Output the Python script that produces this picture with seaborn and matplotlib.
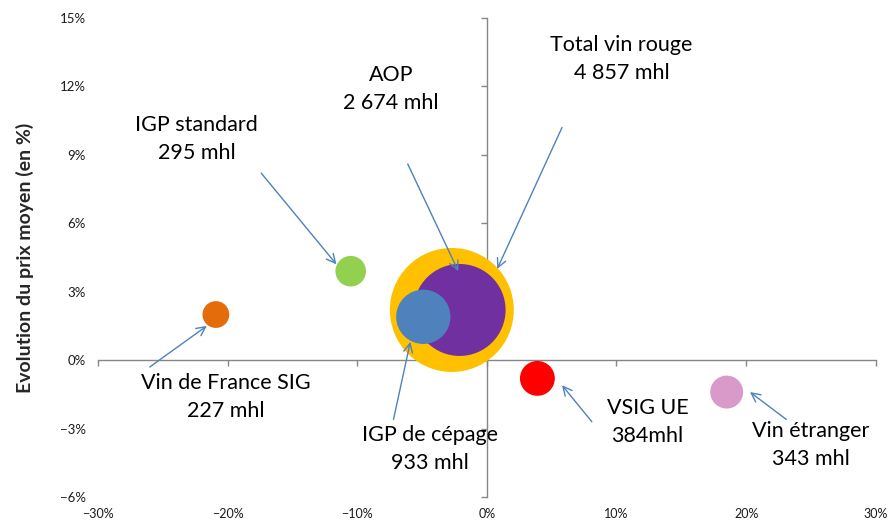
import matplotlib
matplotlib.use('Agg')
import matplotlib.pyplot as plt
import numpy as np
import pandas as pd
import seaborn as sns
from matplotlib.ticker import PercentFormatter

# Données
categories = ['Total vin rouge', 'AOP', 'IGP de cépage', 'IGP standard',
              'Vin de France SIG', 'VSIG UE', 'Vin étranger']
evol_volume = [-2.7, -2.1, -4.9, -10.5, -20.9, 3.9, 18.5]   # axe x (%)
evol_prix = [2.2, 2.2, 1.9, 3.9, 2.0, -0.8, -1.4]           # axe y (%)
volumes = [4857, 2674, 933, 295, 227, 384, 343]             # mhl
volume_labels = ['4 857 mhl', '2 674 mhl', '933 mhl', '295 mhl',
                 '227 mhl', '384mhl', '343 mhl']

x_ticks = [-30, -20, -10, 0, 10, 20, 30]
y_ticks = [-6, -3, 0, 3, 6, 9, 12, 15]

colors = {'Total vin rouge': '#FFC000', 'AOP': '#7030A0', 'IGP de cépage': '#4F81BD',
          'IGP standard': '#92D050', 'Vin de France SIG': '#E46C0A',
          'VSIG UE': '#FF0000', 'Vin étranger': '#D999C9'}

# position des étiquettes et des flèches (départ -> bulle)
label_pos = {'Total vin rouge': (10.4, 13.2), 'AOP': (-7.4, 11.9),
             'IGP de cépage': (-4.4, -3.9), 'IGP standard': (-22.4, 9.7),
             'Vin de France SIG': (-20.1, -1.6), 'VSIG UE': (12.4, -2.7),
             'Vin étranger': (25.0, -3.7)}
arrows = {'Total vin rouge': ((5.8, 10.2), (0.8, 4.0)),
          'AOP': ((-6.1, 8.6), (-2.2, 3.9)),
          'IGP de cépage': ((-7.2, -2.6), (-5.9, 0.8)),
          'IGP standard': ((-17.4, 8.2), (-11.6, 4.2)),
          'Vin de France SIG': ((-26.0, -0.3), (-21.6, 1.5)),
          'VSIG UE': ((8.1, -2.7), (5.8, -1.1)),
          'Vin étranger': ((23.1, -2.6), (20.3, -1.4))}

df = pd.DataFrame({'cat': categories, 'x': evol_volume, 'y': evol_prix, 'vol': volumes})

sns.set_theme(style='white')
plt.rcParams['font.family'] = ['Lato', 'DejaVu Sans']

fig = plt.figure(figsize=(8.9, 5.22), dpi=100)
ax = fig.add_axes([0.110, 0.0479, 0.874, 0.9176])

# surface de la bulle proportionnelle au volume
k = 1.64
size_map = {v: v * k for v in volumes}
sns.scatterplot(data=df, x='x', y='y', hue='cat', palette=colors,
                size='vol', sizes=size_map, legend=False,
                linewidth=0, alpha=1, ax=ax, zorder=3)

ax.set_xlim(-30, 30)
ax.set_ylim(-6, 15)
ax.set_xlabel('')
ax.set_ylabel('')

axis_color = '#868686'
for s in ['top', 'right']:
    ax.spines[s].set_visible(False)
ax.spines['left'].set_position(('data', 0))
ax.spines['bottom'].set_position(('data', 0))
for s in ['left', 'bottom']:
    ax.spines[s].set_color(axis_color)
    ax.spines[s].set_linewidth(1)
ax.set_xticks(x_ticks)
ax.set_yticks(y_ticks)
ax.tick_params(axis='both', direction='out', length=4, width=1, color=axis_color,
               labelbottom=False, labelleft=False, bottom=True, left=True)

# libellés des axes en bas / à gauche (position "bas" d'Excel)
secx = ax.secondary_xaxis(0)
secx.set_xticks(x_ticks)
secx.xaxis.set_major_formatter(PercentFormatter(decimals=0))
secx.tick_params(length=0, pad=8, labelsize=9, labelcolor='#1a1a1a')
secx.spines['bottom'].set_visible(False)

secy = ax.secondary_yaxis(0)
secy.set_yticks(y_ticks)
secy.yaxis.set_major_formatter(PercentFormatter(decimals=0))
secy.tick_params(length=0, pad=8.5, labelsize=9.5, labelcolor='#1a1a1a')
secy.spines['left'].set_visible(False)
secy.set_ylabel('Evolution du prix moyen (en %)', fontsize=14, fontweight='bold', labelpad=19)

for cat, lab in zip(categories, volume_labels):
    tx, ty = label_pos[cat]
    ax.text(tx, ty, f'{cat}\n{lab}', ha='center', va='center', fontsize=15.5,
            linespacing=1.5, color='black', zorder=5)
    start, end = arrows[cat]
    ax.annotate('', xy=end, xytext=start,
                arrowprops=dict(arrowstyle='->', color='#4F81BD', lw=1,
                                mutation_scale=16, shrinkA=0, shrinkB=0),
                zorder=4)

fig.savefig('out.png', dpi=100)
